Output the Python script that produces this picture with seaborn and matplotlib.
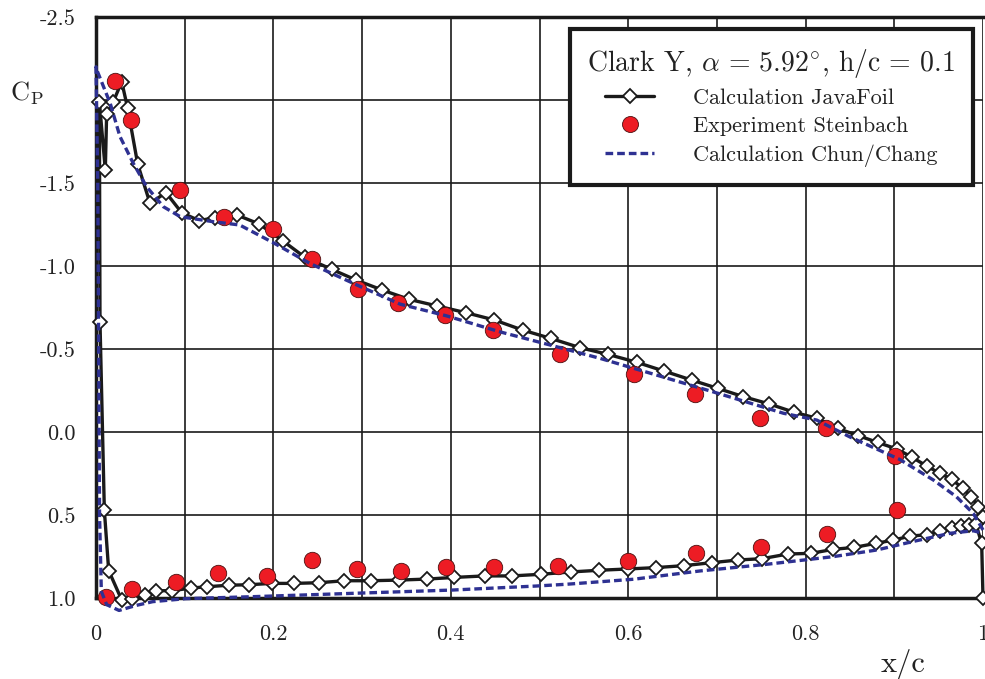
import matplotlib
matplotlib.use("Agg")
import matplotlib.pyplot as plt
import seaborn as sns
import pandas as pd
from matplotlib.lines import Line2D

# ---------------- data ----------------
# JavaFoil: upper surface from trailing edge to leading edge, then lower surface back to TE
javafoil_x = [1.000, 0.9947, 0.987, 0.977, 0.9647, 0.9515, 0.9365, 0.9203, 0.9027, 0.8813,
              0.8594, 0.836, 0.8125, 0.787, 0.759, 0.7298, 0.7009, 0.6715, 0.6404, 0.6096,
              0.5769, 0.5457, 0.5126, 0.481, 0.449, 0.4168, 0.3848, 0.353, 0.3228, 0.293,
              0.2657, 0.2356, 0.2105, 0.184, 0.159, 0.134, 0.1165, 0.0966, 0.0789, 0.0609,
              0.047, 0.0357, 0.029, 0.0195, 0.012, 0.0105, 0.0038, 0.0045, 0.0094, 0.0143,
              0.029, 0.041, 0.0556, 0.068, 0.0857, 0.1075, 0.1255, 0.1496, 0.173, 0.198,
              0.2236, 0.251, 0.280, 0.310, 0.342, 0.373, 0.404, 0.438, 0.469, 0.502,
              0.5355, 0.567, 0.600, 0.631, 0.663, 0.6945, 0.724, 0.751, 0.780, 0.806,
              0.831, 0.855, 0.879, 0.899, 0.918, 0.9365, 0.9515, 0.9654, 0.975, 0.984,
              0.992, 0.9985, 1.000]
javafoil_cp = [0.51, 0.45, 0.39, 0.339, 0.285, 0.249, 0.205, 0.153, 0.102, 0.063,
               0.022, -0.022, -0.083, -0.119, -0.169, -0.213, -0.263, -0.313, -0.367, -0.420,
               -0.468, -0.508, -0.564, -0.614, -0.675, -0.719, -0.759, -0.799, -0.855, -0.916,
               -0.980, -1.052, -1.152, -1.253, -1.307, -1.292, -1.273, -1.321, -1.442, -1.378,
               -1.614, -1.950, -2.110, -1.990, -1.916, -1.578, -1.990, -0.663, 0.470, 0.835,
               1.012, 1.004, 0.982, 0.956, 0.956, 0.940, 0.932, 0.923, 0.920, 0.912,
               0.912, 0.908, 0.896, 0.896, 0.892, 0.886, 0.876, 0.867, 0.867, 0.857,
               0.843, 0.833, 0.825, 0.817, 0.805, 0.787, 0.771, 0.763, 0.735, 0.731,
               0.707, 0.695, 0.671, 0.651, 0.627, 0.619, 0.596, 0.580, 0.566, 0.560,
               0.554, 0.671, 1.000]

# Experiment Steinbach (upper then lower surface)
exp_x = [0.021, 0.039, 0.095, 0.144, 0.199, 0.244, 0.295, 0.340, 0.394, 0.448,
         0.523, 0.607, 0.675, 0.749, 0.823, 0.901,
         0.011, 0.041, 0.090, 0.138, 0.193, 0.244, 0.294, 0.344, 0.395, 0.449,
         0.521, 0.600, 0.676, 0.750, 0.824, 0.903]
exp_cp = [-2.116, -1.880, -1.458, -1.297, -1.221, -1.040, -0.863, -0.779, -0.705, -0.614,
          -0.470, -0.349, -0.226, -0.084, -0.024, 0.145,
          0.994, 0.946, 0.904, 0.851, 0.867, 0.771, 0.827, 0.836, 0.815, 0.815,
          0.807, 0.777, 0.727, 0.691, 0.616, 0.470]

# Calculation Chun/Chang: upper TE -> LE -> lower TE
chun_x = [1.000, 0.989, 0.970, 0.944, 0.906, 0.850, 0.8125, 0.775, 0.700, 0.625,
          0.568, 0.512, 0.455, 0.395, 0.343, 0.294, 0.241, 0.200, 0.162, 0.132,
          0.095, 0.076, 0.057, 0.042, 0.027, 0.016, 0.001, 0.000, 0.002, 0.003,
          0.004, 0.006, 0.012, 0.026, 0.045, 0.064, 0.101, 0.177, 0.289, 0.402,
          0.496, 0.531, 0.606, 0.681, 0.756, 0.831, 0.880, 0.925, 0.963, 0.989, 1.000]
chun_cp = [0.59, 0.49, 0.39, 0.289, 0.165, 0.030, -0.072, -0.113, -0.235, -0.354,
           -0.444, -0.524, -0.604, -0.700, -0.770, -0.886, -1.016, -1.140, -1.247, -1.267,
           -1.297, -1.357, -1.478, -1.619, -1.780, -1.980, -2.180, -2.200, -1.500, -0.500,
           0.500, 0.960, 1.040, 1.075, 1.045, 1.022, 1.004, 0.992, 0.972, 0.952,
           0.928, 0.917, 0.887, 0.837, 0.797, 0.751, 0.711, 0.655, 0.610, 0.595, 0.610]

x_ticks = [0.0, 0.2, 0.4, 0.6, 0.8, 1.0]
x_tick_labels = ["0", "0.2", "0.4", "0.6", "0.8", "1"]
y_ticks = [-2.5, -1.5, -1.0, -0.5, 0.0, 0.5, 1.0]
y_tick_labels = ["-2.5", "-1.5", "-1.0", "-0.5", "0.0", "0.5", "1.0"]

legend_title = r"Clark Y, $\alpha$ = 5.92$^{\circ}$, h/c = 0.1"
labels = ["Calculation JavaFoil", "Experiment Steinbach", "Calculation Chun/Chang"]

# ---------------- style ----------------
sns.set_theme(style="white")
plt.rcParams["font.family"] = ["cmr10", "DejaVu Serif"]
plt.rcParams["mathtext.fontset"] = "cm"
plt.rcParams["axes.unicode_minus"] = False
plt.rcParams["axes.formatter.use_mathtext"] = True

BLACK = "#1a1a1a"
TXT = "#222222"
RED = "#ED1C24"
BLUE = "#2E3192"

W, H = 985, 679
fig = plt.figure(figsize=(W / 100, H / 100), dpi=100)
ax = fig.add_axes([96 / W, 1 - 598 / H, 887 / W, 581 / H])

df_jf = pd.DataFrame({"x": javafoil_x, "cp": javafoil_cp})
df_exp = pd.DataFrame({"x": exp_x, "cp": exp_cp})
df_cc = pd.DataFrame({"x": chun_x, "cp": chun_cp})

MS_D = 7.3
sns.lineplot(data=df_jf, x="x", y="cp", sort=False, estimator=None, ax=ax,
             color=BLACK, linewidth=2.4, marker="D", markersize=MS_D,
             markerfacecolor="white", markeredgecolor=BLACK, markeredgewidth=1.3,
             zorder=3, clip_on=False)
sns.scatterplot(data=df_exp, x="x", y="cp", ax=ax, s=140, color=RED,
                edgecolor="#4a1010", linewidth=0.6, zorder=4, clip_on=False)
sns.lineplot(data=df_cc, x="x", y="cp", sort=False, estimator=None, ax=ax,
             color=BLUE, linewidth=2.4, zorder=5, clip_on=False)
ax.get_lines()[-1].set_dashes((2.3, 1.2))

ax.set_xlim(0, 1)
ax.set_ylim(1.0, -2.5)
ax.set_xticks(x_ticks)
ax.set_xticklabels(x_tick_labels)
ax.set_xticks([0.1, 0.3, 0.5, 0.7, 0.9], minor=True)
ax.set_yticks(y_ticks)
ax.set_yticklabels(y_tick_labels)
ax.set_yticks([-2.0], minor=True)
ax.set_xlabel("")
ax.set_ylabel("")

ax.grid(True, which="both", color=BLACK, linewidth=1.2, zorder=0)
ax.set_axisbelow(True)

ax.tick_params(axis="y", which="major", direction="out", length=7, width=2,
               color=BLACK, pad=8, labelsize=16, labelcolor=TXT)
ax.tick_params(axis="y", which="minor", length=0)
ax.tick_params(axis="x", which="major", direction="in", length=6, width=2,
               color=BLACK, pad=19, labelsize=16, labelcolor=TXT)
ax.tick_params(axis="x", which="minor", length=0)

for side in ["left", "bottom", "top"]:
    ax.spines[side].set_visible(True)
    ax.spines[side].set_linewidth(2.5)
    ax.spines[side].set_color(BLACK)
ax.spines["right"].set_visible(False)

fig.text(10 / W, 1 - 101 / H, r"$\mathrm{C}_\mathrm{P}$", fontsize=19,
         ha="left", va="baseline", color=TXT)
fig.text(903 / W, 1 - 672 / H, "x/c", fontsize=22, ha="center", va="baseline",
         color=TXT)

handles = [
    Line2D([0], [0], color=BLACK, linewidth=2.4, marker="D", markersize=MS_D,
           markerfacecolor="white", markeredgecolor=BLACK, markeredgewidth=1.3),
    Line2D([0], [0], linestyle="none", marker="o", markersize=11.5,
           markerfacecolor=RED, markeredgecolor="#4a1010", markeredgewidth=0.6),
    Line2D([0], [0], color=BLUE, linewidth=2.4, dashes=(2.3, 1.2)),
]
leg = ax.legend(handles, labels, title=legend_title, loc="upper right",
                bbox_to_anchor=(0.989, 0.979), borderaxespad=0, numpoints=1,
                fontsize=16, title_fontsize=20, handlelength=2.2,
                handletextpad=1.75, labelspacing=0.38, borderpad=0.8,
                fancybox=False, framealpha=1, edgecolor=BLACK)
leg.get_frame().set_linewidth(3)
leg.set_zorder(10)
for t in leg.get_texts():
    t.set_color(TXT)
leg.get_title().set_color(TXT)

fig.savefig("out.png", dpi=100)
